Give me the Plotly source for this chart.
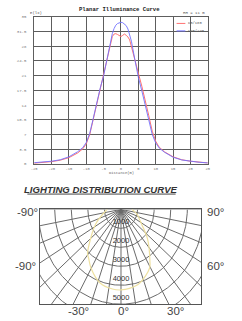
import numpy as np
import plotly.graph_objects as go

W, H = 242, 321

# ---------------- Planar illuminance curve data ----------------
dist_m = [-25, -22.5, -20, -17.5, -15, -12.5, -11, -10, -9, -8, -7, -6, -5, -4, -3, -2.5, -2, -1.5, -1, -0.5, 0,
          0.5, 1, 1.5, 2, 2.5, 3, 4, 5, 6, 7, 8, 9, 10, 11, 12.5, 15, 17.5, 20, 22.5, 25]
e_c0_180 = [0.2, 0.35, 0.55, 0.9, 1.5, 2.6, 3.6, 4.8, 7.0, 10.6, 14.3, 17.8, 21.0, 24.8, 28.5, 30.3, 30.9, 31.0, 30.8, 30.5, 30.3,
            30.6, 30.9, 30.6, 30.2, 29.5, 28.0, 25.2, 21.6, 18.5, 15.2, 11.5, 7.8, 5.4, 4.0, 2.9, 1.7, 1.0, 0.65, 0.4, 0.25]
e_c90_270 = [0.3, 0.45, 0.65, 1.0, 1.7, 2.9, 3.9, 5.1, 7.3, 10.8, 14.5, 18.0, 21.0, 25.0, 29.3, 31.0, 32.2, 33.0, 33.4, 33.6, 33.7,
             33.6, 33.3, 32.9, 32.1, 30.9, 29.2, 24.8, 20.6, 17.4, 14.0, 10.4, 7.0, 5.0, 3.8, 2.8, 1.6, 0.95, 0.6, 0.4, 0.25]
x_ticks = [-25, -20, -15, -10, -5, 0, 5, 10, 15, 20, 25]
x_ticktext = ["-25", "-20", "-15", "-10", "-5", "0", "5", "10", "15", "20", "25"]
y_ticks = [0, 3.5, 7, 10.5, 14, 17.5, 21, 24.5, 28, 31.5, 35]
y_ticktext = ["0", "3.5", "7", "10.5", "14", "17.5", "21", "24.5", "28", "31.5", "35"]

# ---------------- Lighting distribution (photometric) data ----------------
ring_values = [1000, 2000, 3000, 4000, 5000, 6000, 7000, 8000]
ring_labels = ["1000", "2000", "3000", "4000", "5000"]
radial_angles = list(range(-90, 91, 10))
dist_angles = [-90, -84, -63, -50, -41, -37, -30, -18, -7, 0, 7, 16, 29, 33, 46, 58, 75, 84, 90]
dist_cd = [820, 950, 1720, 2390, 3070, 3240, 3600, 4080, 4230, 4250, 4200, 4050, 3550, 3200, 2220, 1460, 1000, 780, 650]
angle_labels = ["-90°", "90°", "-90°", "60°", "-30°", "0°", "30°"]


def px(x):
    return x / W


def py(y):
    return 1 - y / H


fig = go.Figure()

# top chart traces
fig.add_trace(go.Scatter(x=dist_m, y=e_c0_180, mode="lines", line=dict(color="#ff7272", width=1),
                         xaxis="x", yaxis="y", hoverinfo="skip"))
fig.add_trace(go.Scatter(x=dist_m, y=e_c90_270, mode="lines", line=dict(color="#7272ff", width=1),
                         xaxis="x", yaxis="y", hoverinfo="skip", opacity=0.9))

# photometric grid: radial lines
R = 20000
rx, ry = [], []
for a in radial_angles:
    t = np.radians(a)
    rx += [0, R * np.sin(t), None]
    ry += [0, -R * np.cos(t), None]
fig.add_trace(go.Scatter(x=rx, y=ry, mode="lines", line=dict(color="#6a6a6a", width=1),
                         xaxis="x2", yaxis="y2", hoverinfo="skip"))
# arcs
th = np.radians(np.linspace(-90, 90, 181))
ax_, ay_ = [], []
for v in ring_values:
    ax_ += list(v * np.sin(th)) + [None]
    ay_ += list(-v * np.cos(th)) + [None]
fig.add_trace(go.Scatter(x=ax_, y=ay_, mode="lines", line=dict(color="#6a6a6a", width=1),
                         xaxis="x2", yaxis="y2", hoverinfo="skip"))
# distribution curve
da = np.radians(np.array(dist_angles, dtype=float))
dc = np.array(dist_cd, dtype=float)
fig.add_trace(go.Scatter(x=dc * np.sin(da), y=-dc * np.cos(da), mode="lines", line=dict(color="#eee1a0", width=1.2, shape="spline"),
                         xaxis="x2", yaxis="y2", hoverinfo="skip"))
# ring labels
fig.add_trace(go.Scatter(x=[0] * len(ring_labels), y=[-v + 330 for v in ring_values[:len(ring_labels)]],
                         text=ring_labels, mode="text", textposition="middle center",
                         textfont=dict(family="Liberation Sans", size=7.5, color="#333"),
                         xaxis="x2", yaxis="y2", hoverinfo="skip"))

mono = "Liberation Mono"
annots = [
    dict(x=px(119), y=py(7.5), text="<b>Planar Illuminance Curve</b>", font=dict(family=mono, size=5.6, color="#222")),
    dict(x=px(27), y=py(11.5), text="E(lx)", xanchor="left", font=dict(family=mono, size=4, color="#555")),
    dict(x=px(208), y=py(11.5), text="HH = 11 m", xanchor="right", font=dict(family=mono, size=4, color="#555")),
    dict(x=px(189), y=py(21.7), text="C0/180", xanchor="left", font=dict(family=mono, size=3.8, color="#555")),
    dict(x=px(189), y=py(29.3), text="C90/270", xanchor="left", font=dict(family=mono, size=3.8, color="#555")),
    dict(x=px(121), y=py(173.5), text="Distance(m)", font=dict(family=mono, size=3.8, color="#666")),
    dict(x=px(101), y=py(189.5), text="<b><i>LIGHTING DISTRIBUTION CURVE</i></b>",
         font=dict(family="Liberation Sans", size=9.6, color="#333")),
]
lab_pos = [(37, 213, "right"), (208, 213, "left"), (35, 267, "right"), (208, 267, "left"),
           (77, 313, "center"), (124, 313, "center"), (177, 313, "center")]
for (xx, yy, anc), t in zip(lab_pos, angle_labels):
    annots.append(dict(x=px(xx), y=py(yy), text=t, xanchor=anc,
                       font=dict(family="Liberation Sans", size=11.5, color="#444")))
for a in annots:
    a.setdefault("xanchor", "center")
    a.update(xref="paper", yref="paper", yanchor="middle", showarrow=False, borderpad=0)

shapes = [
    dict(type="line", xref="paper", yref="paper", x0=px(178), x1=px(187), y0=py(21.7), y1=py(21.7),
         line=dict(color="#ff7272", width=1)),
    dict(type="line", xref="paper", yref="paper", x0=px(178), x1=px(187), y0=py(29.3), y1=py(29.3),
         line=dict(color="#7272ff", width=1)),
    dict(type="line", xref="paper", yref="paper", x0=px(25), x1=px(177), y0=py(194.5), y1=py(194.5),
         line=dict(color="#444", width=1)),
]

fig.update_layout(
    width=W, height=H, margin=dict(l=0, r=0, t=0, b=0),
    paper_bgcolor="white", plot_bgcolor="white", showlegend=False,
    annotations=annots, shapes=shapes,
    xaxis=dict(domain=[px(32), px(210)], range=[-25, 25], tickvals=x_ticks, ticktext=x_ticktext,
               showgrid=True, gridcolor="#5e5e5e", gridwidth=1, zeroline=False,
               showline=True, linecolor="#5e5e5e", mirror=True, ticks="",
               tickfont=dict(family=mono, size=3.8, color="#777"), ticklabelstandoff=0, fixedrange=True),
    yaxis=dict(domain=[py(164), py(15)], range=[0, 35], tickvals=y_ticks, ticktext=y_ticktext,
               showgrid=True, gridcolor="#5e5e5e", gridwidth=1, zeroline=False,
               showline=True, linecolor="#5e5e5e", mirror=True, ticks="",
               tickfont=dict(family=mono, size=4, color="#777"), ticklabelstandoff=6, fixedrange=True),
    xaxis2=dict(domain=[px(38), px(203)], range=[-4882, 4824], anchor="y2",
                showgrid=False, zeroline=False, showticklabels=False, ticks="",
                showline=True, linecolor="#555", mirror=True, fixedrange=True),
    yaxis2=dict(domain=[py(306), py(210)], range=[-5000, 0], anchor="x2",
                showgrid=False, zeroline=False, showticklabels=False, ticks="",
                showline=True, linecolor="#555", mirror=True, fixedrange=True),
)

fig.write_html("out.html", config={"displayModeBar": False})
